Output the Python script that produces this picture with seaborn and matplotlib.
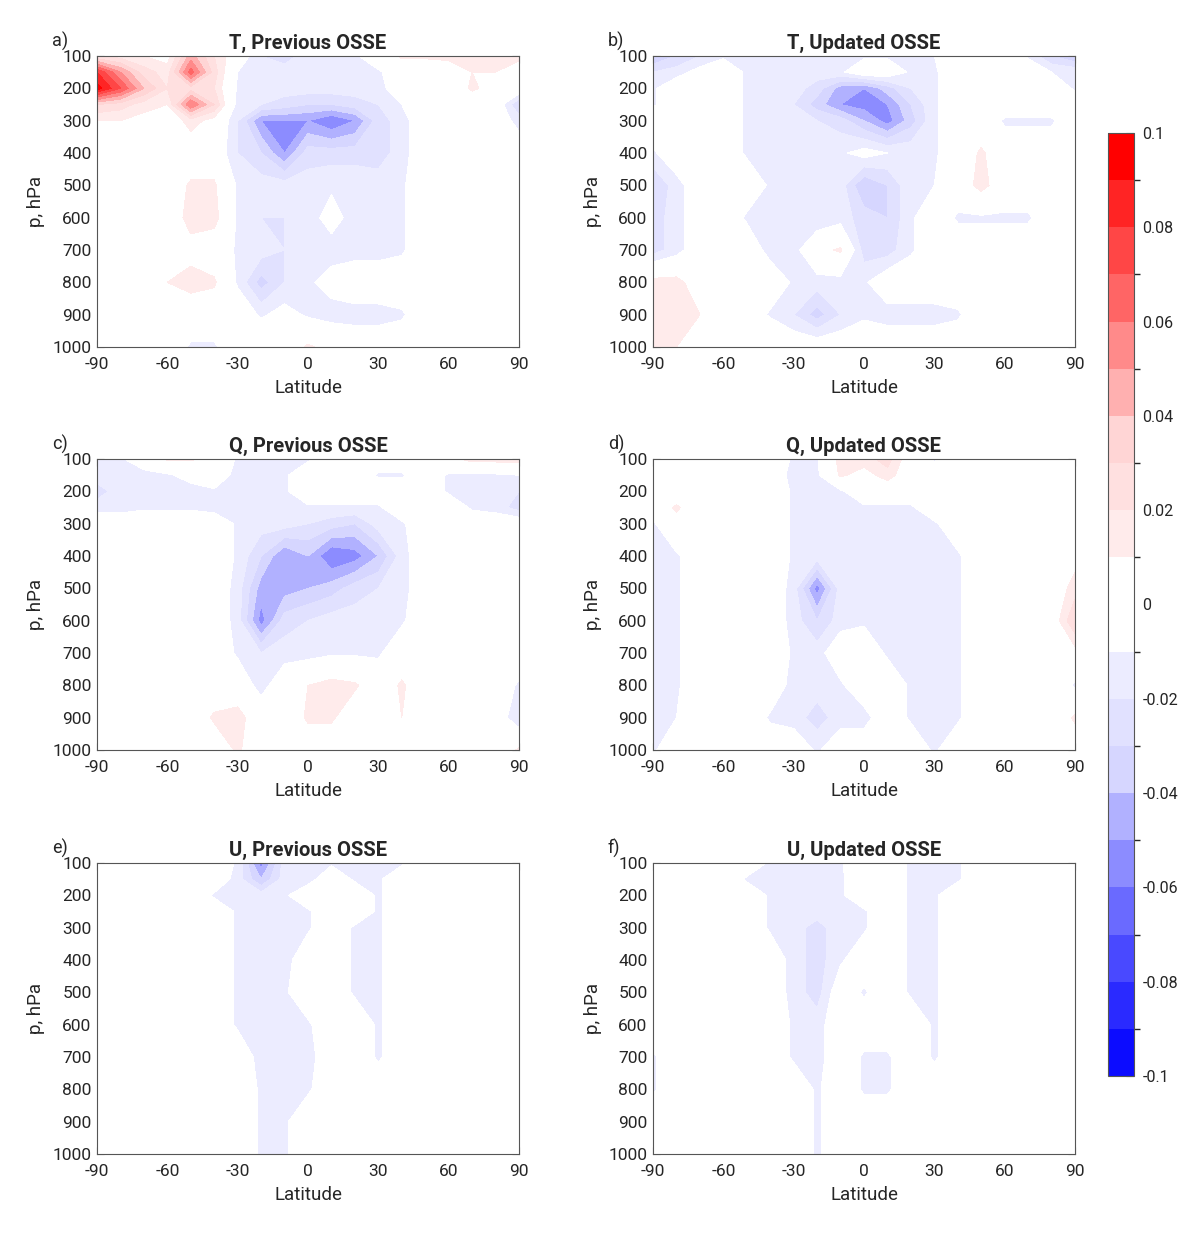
import numpy as np
import matplotlib
matplotlib.use("Agg")
import matplotlib.pyplot as plt
from matplotlib.colors import ListedColormap, BoundaryNorm
import seaborn as sns

sns.set_theme(style="white")
plt.rcParams["font.family"] = ["Roboto", "DejaVu Sans"]
plt.rcParams["axes.unicode_minus"] = False

# grid of the cross sections (values below are in units of 0.01)
lat = [-90, -80, -70, -60, -50, -40, -30, -20, -10, 0, 10, 20, 30, 40, 50, 60, 70, 80, 90]
plev = [100, 150, 200, 250, 300, 400, 500, 600, 700, 800, 900, 1000]

t_prev = [
    [2, 1.5, 1, 0.5, 4.5, 2, 0, -2, -2.5, -1.5, -1.2, -1.2, 0, 1.2, 1.2, 1.2, 1.2, 1.2, 1.2],
    [8, 5, 2.5, 1.5, 6.5, 2.5, -1, -1.5, -1.5, -1.2, -1.5, -1.5, -1.2, 0, 0, 0.5, 1, 1, 0.5],
    [9.5, 7, 4, 2, 2.5, 2, -1.2, -1.5, -1.5, -1.5, -1.5, -1.5, -1.5, 0, 0, 0, 1.2, 0.5, 0],
    [3, 2.5, 1.5, 1, 6, 3, -1.5, -2, -2.5, -3, -3, -2.5, -2, -1, 0, 0, 0, 0, -3],
    [1, 1, 0.5, 0, 1.5, 0.5, -2, -5, -5, -5, -6, -5, -2.5, -1.5, 0, 0, 0, 0, -1.5],
    [1, 0, 0, 0, 0, 0, -2, -3, -5, -2.5, -2.5, -2.5, -2.5, -1.5, 0, 0, 0, 0, 0],
    [1, 0, 0, 0, 1.2, 1.2, -1.2, -1.5, -1.5, -1.5, -1.2, -1.2, -1.5, -1.2, 0, 0, 0, 0, 0],
    [0, 0, 0, 0, 1.5, 1.5, -1.2, -2, -2, -1.5, -0.5, -1.5, -2, -1.2, 0, 0, 0, 0, 0],
    [0, 0, 0, 0, 0.5, 0, -1.2, -1.5, -2, -1.5, -1.5, -1.5, -1.5, -1.2, 0, 0, 0, 0, -1],
    [0, 0, 0, 1, 1.5, 1.2, -1.2, -3.5, -2, -1.2, -0.5, 0, 0, 0, 0, 0, 0, 0, 0],
    [0, 0, 0, 0, 0, 0, 0, -1.2, -0.5, -1.2, -1.5, -1.5, -1.5, -1.2, 0, 0, 0, 0, 0],
    [0, 0, 0, 0, -1.2, -1.2, 0, 0.5, 0, 1.2, 0.5, 0, 0, 0, 0, 0, 0, 0, 0],
]

t_upd = [
    [-4, -3, -2, -1.2, -1.2, -1.5, -1.5, -1.5, -1.2, -1.2, -1.2, -1.2, -1, 0, 0, 0, -1.2, -3, -4],
    [-2, -1.5, -0.5, 0, -1.2, -1.5, -1.5, -1.5, -1.2, 0, 0, -1.2, -1.2, 0, 0, 0, 0, -1, -1.2],
    [-1.2, 0, 0, 0, -1.2, -1.5, -1.5, -2.5, -4.5, -5, -3.5, -2, -1.2, 0, 0, 0, 0, 0, -1.2],
    [-1.2, 0, 0, 0, -1.2, -1.5, -2, -3.5, -5, -5.5, -5, -3, -1.2, 0, 0, 0, 0, 0, 0],
    [0, 0, 0, 0, -1.2, -1.5, -1.5, -2, -2.5, -4, -5.5, -3.5, -1.2, 0, 0, -1.2, -1.2, -1.2, 0],
    [-1.2, 0, 0, 0, -1.2, -1.5, -1.5, -1.5, -1.2, -0.5, -1, -1.2, -1.2, 0, 1.2, 0, 0, 0, 0],
    [-3, -1.5, 0, 0, 0, -1.2, -1.5, -1.5, -1.5, -4, -3, -1.2, -1, 0, 1.5, 0, 0, 0, 1],
    [-2.5, -1.5, 0, 0, -1.2, -2, -2, -2, -1.5, -2.5, -3, -1.2, 0, -1.2, -1.2, -1.2, -1.2, 0, 1],
    [-2.5, -1.5, 0, 0, 0, -1.5, -1.5, 0.5, 1.2, -2.5, -2.5, -1.2, 0, 0, 0, 0, 0, 0, 0],
    [1.5, 1.5, 0, 0, 0, 0, -1.2, -1.5, -1.5, -1.2, 0, 0, 0, 0, 0, 0, 0, 0, 0],
    [1.5, 1.5, 1, 0, 0, -1.2, -2, -3.5, -2, -1.2, -1.5, -1.5, -1.5, -1.2, 0, 0, 0, 0, 0],
    [1.2, 1, 0, 0, 0, 1, 0, 0, 0, 0, 0, 0, 0, 0, 0, 0, 0, 0, 0],
]

q_prev = [
    [-1.2, -1.2, 0, 1.2, 1.2, 0.5, -1.2, -1.2, -1.2, -1.2, 0, 0, 0, 0, 0, 0.5, 1.5, 1.5, 1.5],
    [-1.5, -1.5, -1.5, -1.2, -0.5, 0, -1.5, -1.5, -1.2, 0, 0, 0, -1.2, -1.2, 0, -1.2, -1.2, -1.2, -1],
    [-2.5, -1.5, -1.5, -1.5, -1.5, -1.2, -1.5, -1.2, -1.2, 0, 0, 0, 0, 0, 0, -1.2, -1.5, -1.5, -2],
    [-1.5, -1.5, -1.2, -1.2, -1.2, -1.5, -1.5, -1.5, -1.5, -1.2, -1.2, -1.2, -1.2, 0, 0, 0, -1.2, -1.5, -2.5],
    [0, 0, 0, 0, 0, 0, -1.2, -1.5, -1.5, -2, -2.5, -3, -1.5, -1.2, 0, 0, 0, 0, 0],
    [0.5, 0, 0, 0.5, 0, 0, -1.2, -3, -5, -4, -6, -5.5, -4, -1.5, 0, 0, 0, 0, 0],
    [0.5, 0, 0, 0.5, 0, 0, -1.5, -4.5, -4.5, -4, -3.5, -2.5, -2, -1.5, 0, 0, 0, 0, 0],
    [0, 0, 0, 0, 0, 0, -1.5, -5.5, -2.5, -2, -1.5, -1.5, -1.5, -1.2, 0, 0, 0, 0, 0],
    [0, 0, 0, 0, 0, 0, -1.2, -2, -1.5, -1.5, -1.2, -1.2, -1.2, 0, 0, 0, 0, 0, 0],
    [0, 0, 0, 0, 0, 0, 0, -1.5, 0, 1, 1.5, 1.2, 0, 1.2, 0, 0, 0, 0, -1.2],
    [0, 0, 0, 0, 0, 1.2, 1.5, 0, 0, 1.2, 1.2, 0, 0, 1, 0, 0, 0, 0, -2],
    [0, 0, 0, 0, 0, 0, 1.2, 0, 0, 0, 0, 0, 0, 0, 0, 0, 0, 0, 1.2],
]

q_upd = [
    [-1, 0, 0, 0, 0, 0, -1.2, -1.2, 1.5, 1.5, 2.5, 0, -1.2, 0, 0, 0, 0, 0, 0],
    [-1, 0, 0, 0, 0, 0, -1.5, -1.2, 1.2, 0.5, 1.5, 0, 0, 0, 0, 0, 0, 0, 0],
    [0, 0, 0, 0, 0, 0, -1.2, -1.5, -1.2, 0, 0, 0, 0, 0, 0, 0, 0, 0, 0],
    [0, 1.2, 0, 0, 0, 0, -1.2, -1.2, -1.2, -1.2, -1.2, -1.2, 0, 0, 0, 0, 0, 0, 1],
    [-1.2, 0.5, 0, 0, 0, 0, -1.2, -1.5, -1.5, -1.2, -1.5, -1.2, -1.2, 0, 0, 0, 0, 0, 0],
    [-1.2, -1.2, 0, 0, 0, 0, -1.2, -1.5, -1.5, -1.2, -1.2, -1.5, -1.2, -1.2, 0, 0, 0, 0, 0.5],
    [-1.2, -1.2, 0, 0, 0.5, 0, -1.5, -5.5, -1.5, -1.5, -1.5, -1.2, -1.5, -1.2, 0, 0, 0, 0, 1.5],
    [-1.2, -1.2, 0, 0, 0.5, 0, -1.5, -3, -1.5, -1.2, -1.2, -1.2, -1.2, -1.2, 0, 0.5, 0, 0, 3],
    [-1.2, -1.2, 0, 0, 0, 0, -1.2, -1.5, 0, 0, -1.2, -1.2, -1.2, -1.2, 0, 0, 0, 0, 0.5],
    [-1.2, -1.2, 0, 0, 0, 0, -1.5, -1.5, -1.2, 0, 0, -1.2, -1.2, -1.2, 0, 0, 0, 0, -1.2],
    [-1.2, -1, 0, 0, 0, -1.2, -1.5, -2.5, -1.5, -1.5, 0, -1.2, -1.2, -1.2, 0, 0, 0, 0, 1.2],
    [-1.2, 0, 0, 0, 0, 0, 0, -1.2, 0, 0, 0, 0, -1.2, 0, 0, 0, 0, 0, 0],
]

u_prev = [
    [0, 0, 0, 0, 0, 0, -1.2, -5.5, -1.5, -1.2, -1.2, -1.2, -1.2, -1.2, 0, 0, 0, 0, 0],
    [0, 0, 0, 0, 0, 0, -1.5, -4, -1.5, -1.5, 0, -1.2, -1.2, 0, 0, 0, 0, 0, 0],
    [0, 0, 0, 0, 0, -1.2, -1.2, -1.5, -1.2, 0, 0, 0, -1.2, 0, 0, 0, 0, 0, 0],
    [0, 0, 0, 0, 0, 0, -1.2, -1.5, -1.2, -1.2, 0, 0, -1.2, 0, 0, 0, 0, 0, 0],
    [0, 0, 0, 0, 0, 0, -1.2, -1.5, -1.2, -1.2, 0, -1.2, -1.2, 0, 0, 0, 0, 0, 0],
    [0, 0, 0, 0, 0, 0, -1.2, -1.5, -1.5, 0, 0, -1.2, -1.2, 0, 0, 0, 0, 0, 0],
    [0, 0, 0, 0, 0, 0, -1.2, -1.5, -1.2, 0, 0, -1.2, -1.2, 0, 0, 0, 0, 0, 0],
    [0, 0, 0, 0, 0, 0, -1.2, -1.5, -1.2, -1.2, 0, 0, -1.2, 0, 0, 0, 0, 0, 0],
    [0, 0, 0, 0, 0, 0, 0, -1.5, -1.2, -1.5, 0, 0, -1.2, 0, 0, 0, 0, 0, 0],
    [0, 0, 0, 0, 0, 0, 0, -1.2, -1.2, -1.2, 0, 0, 0, 0, 0, 0, 0, 0, 0],
    [0, 0, 0, 0, 0, 0, 0, -1.2, -1.2, 0, 0, 0, 0, 0, 0, 0, 0, 0, 0],
    [0, 0, 0, 0, 0, 0, 0, -1.2, -1.2, 0, 0, 0, 0, 0, 0, 0, 0, 0, 0],
]

u_upd = [
    [-1, 0, 0, 0, 0, -1.2, -2, -1.5, -1.2, 0.5, 0, -1.2, -1.2, -1.2, 0, 0, 0, 0, 0],
    [0, 0, 0, 0, -1.2, -1.2, -2, -1.5, -1.2, 0, 0, -1.2, -1.2, -1.2, 0, 0, 0, 0, 0],
    [0, 0, 0, 0, 0, -1.2, -1.5, -1.5, -1.2, 0, 0, -1.2, -1.2, 0, 0, 0, 0, 0, 0],
    [0, 0, 0, 0, 0, -1.2, -1.5, -1.5, -1.2, -1.2, 0, -1.2, -1.2, 0, 0, 0, 0, 0, 0],
    [0, 0, 0, 0, 0, -1.2, -1.5, -2.5, -1.2, -1.2, 0, -1.2, -1.2, 0, 0, 0, 0, 0, 0],
    [0, 0, 0, 0, 0, 0, -1.5, -2.5, -1.2, 0, 0, -1.2, -1.2, 0, 0, 0, 0, 0, 0],
    [0, 0, 0, 0, 0, 0, -1.5, -2.5, 0, -1.2, 0, -1.2, -1.2, 0, 0, 0, 0, 0, 0],
    [0, 0, 0, 0, 0, 0, -1.2, -1.5, 0, 0, 0, 0, -1.2, 0, 0, 0, 0, 0, 0],
    [-1.2, 0, 0, 0, 0, 0, -1.2, -1.5, 0, -1.2, -1.2, 0, -1.2, 0, 0, 0, 0, 0, 0],
    [-1.2, 0, 0, 0, 0, 0, 0, -1.2, 0, -1.2, -1.2, 0, 0, 0, 0, 0, 0, 0, 0],
    [0, 0, 0, 0, 0, 0, 0, -1.2, 0, 0, 0, 0, 0, 0, 0, 0, 0, 0, 0],
    [0, 0, 0, 0, 0, 0, 0, -1.2, 0, 0, 0, 0, 0, 0, 0, 0, 0, 0, 0],
]

panels = [
    ("a)", "T, Previous OSSE", t_prev),
    ("b)", "T, Updated OSSE", t_upd),
    ("c)", "Q, Previous OSSE", q_prev),
    ("d)", "Q, Updated OSSE", q_upd),
    ("e)", "U, Previous OSSE", u_prev),
    ("f)", "U, Updated OSSE", u_upd),
]

# 20 bands of 0.01 from -0.1 to 0.1, white around zero
band_colors = [
    "#0c0cff", "#2a2aff", "#4949ff", "#6a6aff", "#8c8cff",
    "#b1b1ff", "#d6d6ff", "#e1e1ff", "#ececff", "#ffffff",
    "#ffffff", "#ffebeb", "#ffe0e0", "#ffd5d5", "#ffb0b0",
    "#ff8a8a", "#ff6565", "#ff4646", "#ff2424", "#ff0000",
]
levels = np.round(np.arange(-0.1, 0.1001, 0.01), 2)
cmap = ListedColormap(sns.color_palette(band_colors))
norm = BoundaryNorm(levels, cmap.N)

txt = "#262626"
edge = "#555555"

fig = plt.figure(figsize=(12, 12.37), dpi=100)
col_left = [97 / 1200, 653 / 1200]
row_bottom = [1 - 347 / 1237, 1 - 750 / 1237, 1 - 1154 / 1237]
ax_w = 422 / 1200
ax_h = 291 / 1237

for i, (tag, title, grid) in enumerate(panels):
    ax = fig.add_axes([col_left[i % 2], row_bottom[i // 2], ax_w, ax_h])
    vals = np.array(grid) * 0.01
    cf = ax.contourf(lat, plev, vals, levels=levels, cmap=cmap, norm=norm)
    ax.set_xlim(-90, 90)
    ax.set_ylim(1000, 100)
    ax.set_xticks(range(-90, 91, 30))
    ax.set_yticks(range(100, 1001, 100))
    ax.tick_params(direction="in", length=5, width=0.8, color=edge,
                   labelsize=12.5, labelcolor=txt, top=True, right=True,
                   bottom=True, left=True)
    ax.tick_params(axis="x", pad=7)
    ax.tick_params(axis="y", pad=4)
    for s in ax.spines.values():
        s.set_color(edge)
        s.set_linewidth(0.8)
    ax.set_xlabel("Latitude", fontsize=13.5, color=txt, labelpad=5)
    ax.set_ylabel("p, hPa", fontsize=13.5, color=txt, labelpad=5)
    ax.set_title(title, fontsize=14.5, fontweight="bold", color=txt, pad=5)
    ax.text(-0.107, 1.018, tag, transform=ax.transAxes, fontsize=13,
            color=txt, ha="left", va="bottom")

cax = fig.add_axes([1108 / 1200, 1 - 1076 / 1237, 26 / 1200, 943 / 1237])
cb = fig.colorbar(cf, cax=cax, ticks=np.round(np.arange(-0.1, 0.1001, 0.02), 2))
cb.ax.set_yticklabels(["-0.1", "-0.08", "-0.06", "-0.04", "-0.02", "0",
                       "0.02", "0.04", "0.06", "0.08", "0.1"])
cb.ax.tick_params(direction="in", length=6, width=0.8, color=edge,
                  labelsize=11.5, labelcolor=txt, pad=6)
cb.outline.set_edgecolor(edge)
cb.outline.set_linewidth(0.8)

fig.savefig("out.png", dpi=100)
